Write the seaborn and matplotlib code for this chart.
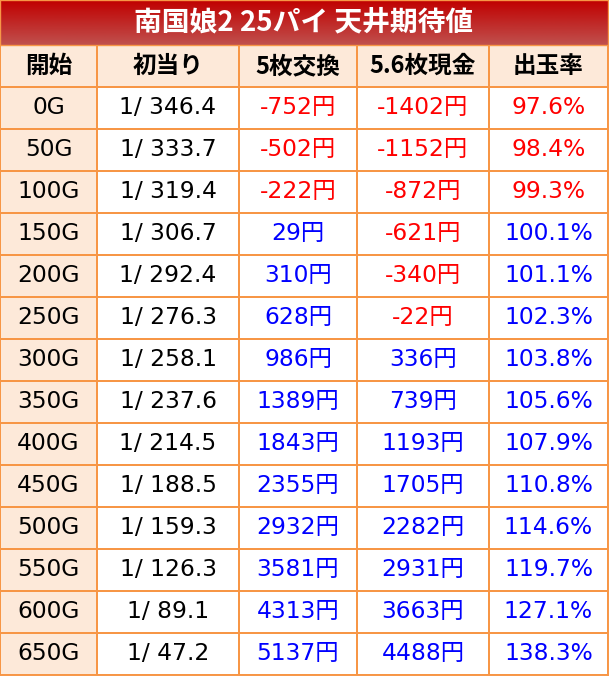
import numpy as np
import matplotlib
matplotlib.use("Agg")
import matplotlib.pyplot as plt
import seaborn as sns
from matplotlib.colors import ListedColormap, LinearSegmentedColormap

# --- data ---
TITLE = "南国娘2 25パイ 天井期待値"
headers = ["開始", "初当り", "5枚交換", "5.6枚現金", "出玉率"]
start_games = [0, 50, 100, 150, 200, 250, 300, 350, 400, 450, 500, 550, 600, 650]
first_hit = [346.4, 333.7, 319.4, 306.7, 292.4, 276.3, 258.1, 237.6, 214.5,
             188.5, 159.3, 126.3, 89.1, 47.2]
ev_5 = [-752, -502, -222, 29, 310, 628, 986, 1389, 1843, 2355, 2932, 3581, 4313, 5137]
ev_56 = [-1402, -1152, -872, -621, -340, -22, 336, 739, 1193, 1705, 2282, 2931, 3663, 4488]
payout = [97.6, 98.4, 99.3, 100.1, 101.1, 102.3, 103.8, 105.6, 107.9, 110.8,
          114.6, 119.7, 127.1, 138.3]

# --- layout (pixels) ---
W, H = 609, 676
col_px = [0, 97, 239, 357, 489, 608]
title_h = 45
BORDER = "#f79646"
PEACH = "#fde9d9"
RED, BLUE = "#ff0000", "#0000ff"
FONTS = ["DejaVu Sans", "Noto Sans CJK JP"]
CJK = ["Noto Sans CJK JP", "DejaVu Sans"]

sns.set_theme(style="white")
plt.rcParams["font.family"] = FONTS

n_rows = len(start_games) + 1
n_cols = len(headers)

# background: 1 = peach (header row / first column), 0 = white
shade = np.zeros((n_rows, n_cols))
shade[0, :] = 1
shade[:, 0] = 1

labels = [headers]
colors = [["black"] * n_cols]
for g, fh, a, b, p in zip(start_games, first_hit, ev_5, ev_56, payout):
    labels.append([f"{g}G", f"1/ {fh}", f"{a}円", f"{b}円", f"{p:.1f}%"])
    colors.append(["black", "black",
                   RED if a < 0 else BLUE,
                   RED if b < 0 else BLUE,
                   RED if p < 100 else BLUE])
labels = np.array(labels)

fig = plt.figure(figsize=(W / 100, H / 100), dpi=100)
ax = fig.add_axes([0, 1 / H, col_px[-1] / W, (H - title_h - 1) / H])

sns.heatmap(shade, ax=ax, cmap=ListedColormap(["white", PEACH]), vmin=0, vmax=1,
            cbar=False, annot=labels, fmt="", linewidths=1.4, linecolor=BORDER,
            xticklabels=False, yticklabels=False,
            annot_kws={"fontsize": 16.8, "fontfamily": FONTS})

# unequal column widths via a piecewise-linear x scale
idx = np.arange(n_cols + 1)
ax.set_xscale("function",
              functions=(lambda x: np.interp(x, idx, col_px),
                         lambda p: np.interp(p, col_px, idx)))
ax.set_xlim(0, n_cols)
ax.set_xticks([])
ax.set_yticks([])

for k, t in enumerate(ax.texts):
    r, c = divmod(k, n_cols)
    t.set_color(colors[r][c])
    if r == 0:
        t.set_fontsize(17)
        t.set_fontweight("bold")
        t.set_fontfamily(CJK)

for s in ax.spines.values():
    s.set_visible(True)
    s.set_color(BORDER)
    s.set_linewidth(1.4)

# title bar with vertical gradient
tax = fig.add_axes([0, (H - title_h) / H, col_px[-1] / W, title_h / H])
grad = LinearSegmentedColormap.from_list("bar", ["#c00000", "#c0504d"])
tax.imshow(np.linspace(0, 1, 64).reshape(-1, 1), aspect="auto", cmap=grad,
           extent=(0, 1, 0, 1), origin="upper")
tax.set_xlim(0, 1)
tax.set_ylim(0, 1)
tax.set_xticks([])
tax.set_yticks([])
for s in tax.spines.values():
    s.set_color(BORDER)
    s.set_linewidth(1.0)
tax.text(0.5, 0.5, TITLE, color="white", fontsize=20, fontweight="bold",
         family=CJK, ha="center", va="center", transform=tax.transAxes)

fig.savefig("out.png", dpi=100)
